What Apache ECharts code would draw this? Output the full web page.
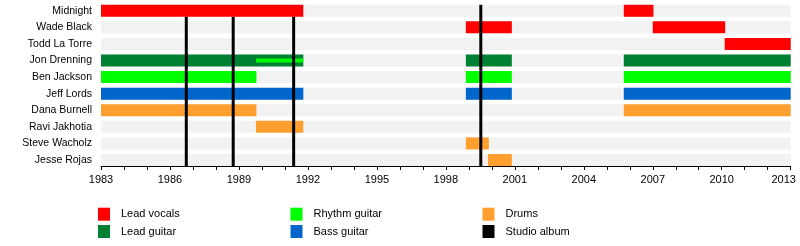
<!DOCTYPE html>
<html>
<head>
<meta charset="utf-8">
<script src="https://cdn.jsdelivr.net/npm/echarts@6/dist/echarts.min.js"></script>
<style>html,body{margin:0;padding:0;background:#fff;}#c{width:800px;height:246px;}</style>
</head>
<body>
<div id="c"></div>
<script>
const members = ['Midnight','Wade Black','Todd La Torre','Jon Drenning','Ben Jackson','Jeff Lords','Dana Burnell','Ravi Jakhotia','Steve Wacholz','Jesse Rojas'];
const leadVocals = [['Midnight',1983,1991.8],['Midnight',2005.74,2007.03],['Wade Black',1998.87,2000.87],['Wade Black',2007.0,2010.15],['Todd La Torre',2010.13,2013]];
const leadGuitar = [['Jon Drenning',1983,1991.8],['Jon Drenning',1998.87,2000.87],['Jon Drenning',2005.74,2013]];
const rhythmGuitar = [['Ben Jackson',1983,1989.76],['Ben Jackson',1998.87,2000.87],['Ben Jackson',2005.74,2013]];
const rhythmGuitarSecondary = [['Jon Drenning',1989.74,1991.8]];
const bassGuitar = [['Jeff Lords',1983,1991.8],['Jeff Lords',1998.87,2000.87],['Jeff Lords',2005.74,2013]];
const drums = [['Dana Burnell',1983,1989.76],['Dana Burnell',2005.74,2013],['Ravi Jakhotia',1989.74,1991.8],['Steve Wacholz',1998.87,1999.87],['Jesse Rojas',1999.83,2000.87]];
const studioAlbums = [1986.71,1988.75,1991.38,1999.52];
const yearStart = 1983, yearEnd = 2013;

const FONT = 'Liberation Sans, Arial, sans-serif';
const toRows = arr => arr.map(d => [members.indexOf(d[0]), d[1], d[2]]);
const BAR_H = 12;

function barRenderer(h) {
  return function (params, api) {
    const row = api.value(0);
    const s = api.coord([api.value(1), row]);
    const e = api.coord([api.value(2), row]);
    return {
      type: 'rect',
      shape: {x: s[0], y: s[1] - h / 2, width: e[0] - s[0], height: h},
      style: {fill: api.visual('color')}
    };
  };
}

function barSeries(name, rows, color, h) {
  return {
    name: name, type: 'custom', coordinateSystem: 'cartesian2d', z: 2,
    renderItem: barRenderer(h),
    itemStyle: {color: color},
    encode: {x: [1, 2], y: 0},
    data: rows,
    silent: true
  };
}

// the first row's bars sit above the album lines
const firstRowSpans = toRows(leadVocals).filter(r => r[0] === 0);

const chart = echarts.init(document.getElementById('c'), null, {renderer: 'canvas'});
const legendBase = {
  orient: 'vertical', top: 207.7, itemWidth: 12, itemHeight: 13, itemGap: 4.3, padding: 0,
  icon: 'rect', selectedMode: false,
  textStyle: {fontFamily: FONT, fontSize: 11, color: '#000', padding: [0, 0, 0, 6]}
};
chart.setOption({
  animation: false,
  grid: {left: 101, right: 9.3, top: 2.5, height: 165.8, outerBoundsMode: 'none', containLabel: false},
  xAxis: {
    type: 'value', min: yearStart, max: yearEnd, interval: 1, offset: -2.3,
    axisLine: {show: true, lineStyle: {color: '#000', width: 1}},
    axisTick: {show: true, length: 4, lineStyle: {color: '#000'}},
    axisLabel: {
      fontFamily: FONT, fontSize: 11, color: '#000', margin: 8, hideOverlap: false,
      formatter: v => ((v - yearStart) % 3 !== 0 ? '' : (v === yearEnd ? '{last|' + v + '}' : String(v))),
      rich: {last: {fontFamily: FONT, fontSize: 11, color: '#000', padding: [0, 14, 0, 0]}}
    },
    splitLine: {show: false}
  },
  yAxis: {
    type: 'category', data: members, inverse: true,
    axisLine: {show: false}, axisTick: {show: false}, splitLine: {show: false},
    axisLabel: {fontFamily: FONT, fontSize: 10.5, color: '#000', margin: 9}
  },
  legend: [
    Object.assign({}, legendBase, {left: 98, data: ['Lead vocals', 'Lead guitar']}),
    Object.assign({}, legendBase, {left: 290.5, data: ['Rhythm guitar', 'Bass guitar']}),
    Object.assign({}, legendBase, {left: 482.5, data: ['Drums', 'Studio album']})
  ],
  series: [
    {
      name: 'bg', type: 'custom', coordinateSystem: 'cartesian2d', z: 1, silent: true,
      renderItem: function (params, api) {
        const row = api.value(0);
        const s = api.coord([api.value(1), row]);
        const e = api.coord([api.value(2), row]);
        return {type: 'rect', shape: {x: s[0], y: s[1] - BAR_H / 2, width: e[0] - s[0], height: BAR_H}, style: {fill: '#f2f2f2'}};
      },
      encode: {x: [1, 2], y: 0},
      data: members.map((m, i) => [i, yearStart, yearEnd])
    },
    barSeries('Lead vocals', toRows(leadVocals), '#ff0000', BAR_H),
    barSeries('Lead guitar', toRows(leadGuitar), '#008033', BAR_H),
    barSeries('Rhythm guitar', toRows(rhythmGuitar), '#00ff00', BAR_H),
    barSeries('Rhythm guitar', toRows(rhythmGuitarSecondary), '#00ff00', 4),
    barSeries('Bass guitar', toRows(bassGuitar), '#0066cc', BAR_H),
    barSeries('Drums', toRows(drums), '#ff9f2f', BAR_H),
    {
      name: 'Studio album', type: 'custom', coordinateSystem: 'cartesian2d', silent: true, z: 3,
      itemStyle: {color: '#000'},
      renderItem: function (params, api) {
        const x = api.value(0);
        const top = api.coord([x, 0]);
        const bot = api.coord([x, members.length - 1]);
        const covered = firstRowSpans.some(r => x >= r[1] && x <= r[2]);
        const y1 = covered ? top[1] + BAR_H / 2 : top[1] - BAR_H / 2;
        return {
          type: 'rect',
          shape: {x: top[0] - 1.5, y: y1, width: 3, height: bot[1] + BAR_H / 2 - y1},
          style: {fill: '#000'}
        };
      },
      encode: {x: 0, y: 1},
      data: studioAlbums.map(x => [x, 0])
    }
  ]
});
</script>
</body>
</html>
